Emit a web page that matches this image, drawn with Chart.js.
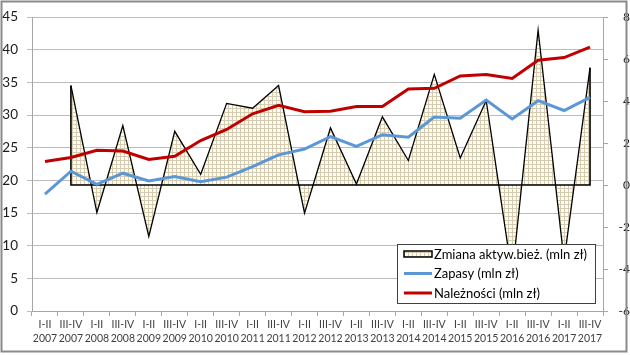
<!DOCTYPE html>
<html><head><meta charset="utf-8">
<script src="https://cdn.jsdelivr.net/npm/chart.js@4.4.1/dist/chart.umd.min.js"></script>
<style>html,body{margin:0;padding:0;background:#fff}#wrap{width:630px;height:355px;position:relative}</style>
</head><body><div id="wrap"><canvas id="c" width="630" height="355"></canvas></div>
<script>
const periods = ['I-II','III-IV','I-II','III-IV','I-II','III-IV','I-II','III-IV','I-II','III-IV','I-II','III-IV','I-II','III-IV','I-II','III-IV','I-II','III-IV','I-II','III-IV','I-II','III-IV'];
const years = ['2007','2007','2008','2008','2009','2009','2010','2010','2011','2011','2012','2012','2013','2013','2014','2014','2015','2015','2016','2016','2017','2017'];
const zmiana = [null, 4.74, -1.31, 2.83, -2.45, 2.56, 0.51, 3.89, 3.66, 4.74, -1.34, 2.72, 0.05, 3.25, 1.17, 5.27, 1.29, 4.03, -4.3, 7.38, -3.6, 5.59];
const zapasy = [17.9, 21.4, 19.4, 21.1, 19.9, 20.6, 19.8, 20.5, 22.1, 23.9, 24.8, 26.7, 25.2, 27.0, 26.6, 29.7, 29.5, 32.3, 29.4, 32.2, 30.7, 32.7];
const naleznosci = [22.9, 23.5, 24.6, 24.5, 23.2, 23.7, 26.1, 27.8, 30.2, 31.5, 30.5, 30.6, 31.3, 31.3, 34.0, 34.1, 36.0, 36.2, 35.6, 38.4, 38.8, 40.4];
const seriesNames = ['Zmiana aktyw.bież. (mln zł)', 'Zapasy (mln zł)', 'Należności (mln zł)'];
const leftTicks = {min: 0, max: 45, step: 5};
const rightTicks = {min: -6, max: 8, step: 2};

const FONT = 'Lato';
const canvas = document.getElementById('c');
const ctx0 = canvas.getContext('2d');
const pc = document.createElement('canvas'); pc.width = 4; pc.height = 4;
const pg = pc.getContext('2d');
pg.fillStyle = '#fefcf3'; pg.fillRect(0,0,4,4);
pg.fillStyle = '#d5cbb0'; pg.fillRect(0,0,4,1); pg.fillRect(0,0,1,4);
const hatch = ctx0.createPattern(pc, 'repeat');

const outline = {
  id: 'outline',
  afterDatasetDraw(chart, args) {
    if (args.index !== 0) return;
    const pts = args.meta.data.filter(p => !p.skip);
    const first = pts[0], last = pts[pts.length - 1];
    const y0 = chart.scales.y1.getPixelForValue(0);
    const c = chart.ctx;
    c.save(); c.strokeStyle = '#000'; c.lineWidth = 1.6;
    c.beginPath(); c.moveTo(first.x, first.y); c.lineTo(first.x, y0); c.lineTo(last.x, y0); c.lineTo(last.x, last.y); c.stroke();
    c.restore();
  }
};
const legendBox = {
  id: 'legendBox',
  afterDraw(chart) {
    const c = chart.ctx;
    const x = 397, y = 244, w = 198, h = 59;
    c.save();
    c.fillStyle = '#fff'; c.fillRect(x, y, w, h);
    c.strokeStyle = '#404040'; c.lineWidth = 1; c.strokeRect(x + 0.5, y + 0.5, w, h);
    const ds = chart.data.datasets;
    const rows = [254, 273.5, 293];
    c.font = '13px ' + FONT; c.textBaseline = 'middle'; c.fillStyle = '#000';
    ds.forEach((d, i) => {
      const ry = rows[i];
      if (i === 0) {
        c.fillStyle = hatch; c.fillRect(404, ry - 3, 28, 6);
        c.strokeStyle = '#000'; c.lineWidth = 1.5; c.strokeRect(404, ry - 3, 28, 6);
      } else {
        c.strokeStyle = d.borderColor; c.lineWidth = 3; c.beginPath(); c.moveTo(404, ry); c.lineTo(432, ry); c.stroke();
      }
      c.fillStyle = '#000'; c.fillText(d.label, 434, ry + 0.5);
    });
    c.restore();
  }
};
const frame = {
  id: 'frame',
  afterDraw(chart) {
    const c = chart.ctx; c.save(); c.strokeStyle = '#8a8a8a'; c.lineWidth = 2; c.strokeRect(1.5, 1.5, 625, 350); c.restore();
  }
};

new Chart(canvas, {
  type: 'line',
  data: {
    labels: periods.map((p, i) => [p, years[i]]),
    datasets: [
      {label: seriesNames[0], data: zmiana, yAxisID: 'y1', borderColor: '#000', borderWidth: 1.3, backgroundColor: hatch, fill: 'origin', pointRadius: 0, tension: 0, order: 2},
      {label: seriesNames[1], data: zapasy, yAxisID: 'y', borderColor: '#5b97d6', borderWidth: 3, pointRadius: 0, fill: false, tension: 0, order: 1},
      {label: seriesNames[2], data: naleznosci, yAxisID: 'y', borderColor: '#c00000', borderWidth: 3, pointRadius: 0, fill: false, tension: 0, order: 0}
    ]
  },
  options: {
    responsive: false, animation: false, devicePixelRatio: 1,
    layout: {padding: {top: 16, left: 0, right: 0, bottom: 0}},
    plugins: {legend: {display: false}, tooltip: {enabled: false}},
    scales: {
      x: {
        offset: true,
        grid: {offset: true, drawOnChartArea: false, drawTicks: true, tickLength: 5, color: '#a6a6a6'},
        border: {color: '#a6a6a6'},
        ticks: {color: '#404040', font: {family: FONT, size: 10.5, lineHeight: 1.3}, maxRotation: 0, autoSkip: false, padding: 2},
        afterFit: s => { s.height = 44; }
      },
      y: {
        position: 'left', min: leftTicks.min, max: leftTicks.max,
        ticks: {stepSize: leftTicks.step, color: '#1a1a1a', font: {family: FONT, size: 13.5}, padding: 9},
        grid: {color: '#bcbcbc', tickLength: 5, drawTicks: true},
        border: {color: '#a6a6a6'},
        afterFit: s => { s.width = 32; }
      },
      y1: {
        position: 'right', min: rightTicks.min, max: rightTicks.max,
        ticks: {stepSize: rightTicks.step, color: '#1a1a1a', font: {family: FONT, size: 12}, padding: 1, crossAlign: 'far'},
        grid: {drawOnChartArea: false, tickLength: 5, color: '#a6a6a6'},
        border: {color: '#a6a6a6'},
        afterFit: s => { s.width = 27; }
      }
    }
  },
  plugins: [outline, legendBox, frame]
});
</script></body></html>
